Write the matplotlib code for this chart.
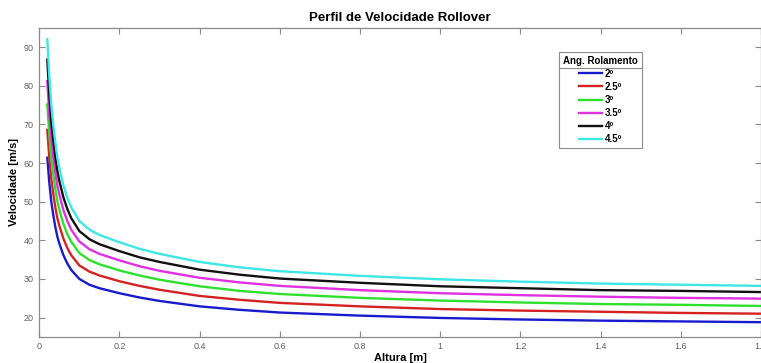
import matplotlib
matplotlib.use('Agg')
import matplotlib.pyplot as plt
from matplotlib.lines import Line2D

plt.rcParams['font.family'] = ['Liberation Sans', 'DejaVu Sans']

# altura [m] and velocidade [m/s]
altura = [0.02, 0.025, 0.03, 0.035, 0.04, 0.045, 0.05, 0.06, 0.07, 0.08, 0.1, 0.125, 0.15,
          0.2, 0.25, 0.3, 0.4, 0.5, 0.6, 0.8, 1.0, 1.2, 1.4, 1.6, 1.8]

v_2 = [61.4, 55.0, 50.0, 46.5, 43.5, 41.0, 39.2, 36.2, 34.0, 32.3, 30.0, 28.5, 27.6,
       26.3, 25.2, 24.3, 22.9, 22.0, 21.3, 20.5, 19.9, 19.5, 19.2, 19.0, 18.8]
v_25 = [68.6, 61.5, 55.9, 52.0, 48.6, 45.8, 43.8, 40.5, 38.0, 36.1, 33.5, 31.9, 30.9,
        29.4, 28.2, 27.2, 25.6, 24.6, 23.8, 22.9, 22.2, 21.8, 21.5, 21.2, 21.0]
v_3 = [75.2, 67.4, 61.2, 57.0, 53.3, 50.2, 48.0, 44.3, 41.6, 39.6, 36.7, 34.9, 33.8,
       32.2, 30.9, 29.8, 28.1, 26.9, 26.1, 25.1, 24.4, 23.9, 23.5, 23.3, 23.0]
v_35 = [81.2, 72.8, 66.2, 61.5, 57.6, 54.2, 51.9, 47.9, 45.0, 42.7, 39.7, 37.7, 36.5,
        34.8, 33.3, 32.1, 30.3, 29.1, 28.2, 27.1, 26.3, 25.8, 25.4, 25.1, 24.9]
v_4 = [86.8, 77.8, 70.7, 65.8, 61.5, 58.0, 55.4, 51.2, 48.1, 45.7, 42.4, 40.3, 39.0,
       37.2, 35.6, 34.4, 32.4, 31.1, 30.1, 29.0, 28.1, 27.6, 27.1, 26.9, 26.6]
v_45 = [92.1, 82.5, 75.0, 69.8, 65.3, 61.5, 58.8, 54.3, 51.0, 48.5, 45.0, 42.8, 41.4,
        39.5, 37.8, 36.5, 34.4, 33.0, 32.0, 30.8, 29.9, 29.3, 28.8, 28.5, 28.2]

series = [v_2, v_25, v_3, v_35, v_4, v_45]
labels = ['2º', '2.5º', '3º', '3.5º', '4º', '4.5º']
cores = ['#1a1acd', '#d42222', '#2ee02e', '#e030e0', '#111111', '#3ee6e6']

fig = plt.figure(figsize=(7.61, 3.63), dpi=100)
ax = fig.add_axes([0.0516, 0.072, 0.9484, 0.851])

for v, lab, c in zip(series, labels, cores):
    ax.plot(altura, v, color=c, lw=1.7, label=lab)

ax.set_xlim(0, 1.8)
ax.set_ylim(15, 95)
ax.set_xticks([0, 0.2, 0.4, 0.6, 0.8, 1, 1.2, 1.4, 1.6, 1.8])
ax.set_xticklabels(['0', '0.2', '0.4', '0.6', '0.8', '1', '1.2', '1.4', '1.6', '1.8'])
ax.set_yticks(range(20, 91, 10))

gris = '#8a8a8a'
for s in ax.spines.values():
    s.set_color(gris)
    s.set_linewidth(0.9)
ax.tick_params(direction='in', length=4, width=0.8, color=gris, labelcolor='#606060',
               labelsize=6.5, top=True, right=True, pad=4)

ax.set_title('Perfil de Velocidade Rollover', fontsize=9.5, fontweight='bold', pad=5)
ax.set_xlabel('Altura [m]', fontsize=8, fontweight='bold', labelpad=1)
ax.set_ylabel('Velocidade [m/s]', fontsize=8, fontweight='bold', labelpad=3)

leg = ax.legend(loc='upper right', bbox_to_anchor=(0.835, 0.923), title='Ang. Rolamento',
                prop={'size': 7, 'weight': 'bold'}, title_fontproperties={'size': 7, 'weight': 'bold'},
                alignment='center', fancybox=False, framealpha=1, edgecolor=gris,
                handlelength=2.3, handletextpad=0.3, labelspacing=0.32, borderpad=0.4,
                borderaxespad=0)
leg.get_frame().set_linewidth(0.8)

# separator line under legend title (MATLAB style)
fig.canvas.draw()
r = fig.canvas.get_renderer()
fb = leg.get_frame().get_window_extent(r)
tb = leg.get_title().get_window_extent(r)
ysep = tb.y0 - 2
W, H = fig.get_size_inches() * fig.dpi
fig.add_artist(Line2D([fb.x0 / W, fb.x1 / W], [ysep / H, ysep / H], color=gris, lw=0.8))

fig.savefig('out.png', dpi=100)
